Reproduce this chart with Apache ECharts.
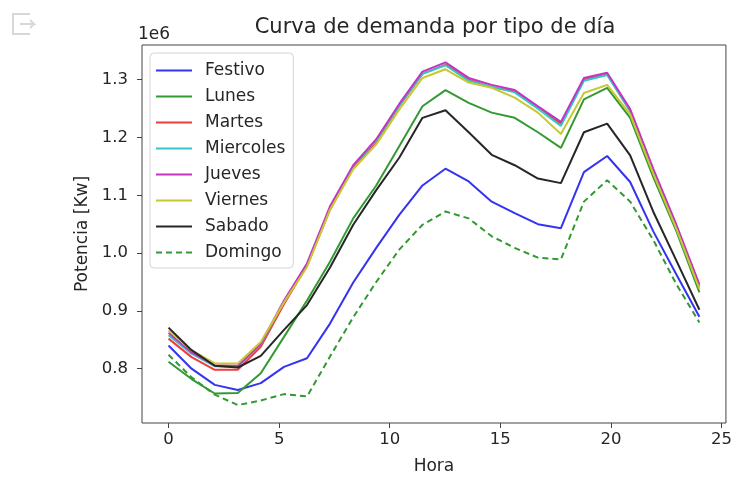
<!DOCTYPE html>
<html>
<head>
<meta charset="utf-8">
<script src="https://cdn.jsdelivr.net/npm/echarts@6/dist/echarts.min.js"></script>
<style>
  html, body { margin: 0; padding: 0; background: #ffffff; }
  #chart { width: 735px; height: 480px; }
</style>
</head>
<body>
<div id="chart"></div>
<script>
// Hour positions of the 24 samples (hourly profile spread over 0..24)
const hours = [0, 1.04, 2.09, 3.13, 4.17, 5.22, 6.26, 7.30, 8.35, 9.39, 10.43, 11.48,
               12.52, 13.57, 14.61, 15.65, 16.70, 17.74, 18.78, 19.83, 20.87, 21.91, 22.96, 24];

// Demand per day type, in kW
const festivo   = [840000, 800000, 772000, 763000, 775000, 803000, 818000, 878000, 949000, 1009000, 1066000, 1117000,
                   1146000, 1124000, 1089000, 1069000, 1050000, 1043000, 1140000, 1168000, 1123000, 1038000, 963000, 890000];
const lunes     = [812000, 782000, 757000, 758000, 792000, 855000, 918000, 985000, 1060000, 1117000, 1185000, 1254000,
                   1282000, 1260000, 1243000, 1234000, 1209000, 1182000, 1266000, 1286000, 1234000, 1132000, 1038000, 932000];
const martes    = [852000, 820000, 798000, 798000, 838000, 912000, 978000, 1075000, 1148000, 1193000, 1254000, 1310000,
                   1326000, 1300000, 1287000, 1280000, 1252000, 1224000, 1300000, 1309000, 1246000, 1143000, 1046000, 942000];
const miercoles = [858000, 826000, 804000, 803000, 842000, 916000, 980000, 1078000, 1150000, 1195000, 1255000, 1310000,
                   1325000, 1298000, 1288000, 1278000, 1250000, 1220000, 1298000, 1308000, 1246000, 1144000, 1047000, 943000];
const jueves    = [862000, 828000, 806000, 805000, 843000, 918000, 982000, 1081000, 1152000, 1197000, 1258000, 1314000,
                   1330000, 1303000, 1291000, 1282000, 1254000, 1227000, 1303000, 1312000, 1249000, 1146000, 1049000, 946000];
const viernes   = [866000, 832000, 809000, 809000, 846000, 915000, 976000, 1075000, 1145000, 1188000, 1248000, 1303000,
                   1318000, 1295000, 1286000, 1269000, 1243000, 1206000, 1277000, 1291000, 1240000, 1138000, 1042000, 938000];
const sabado    = [871000, 832000, 805000, 802000, 822000, 867000, 910000, 975000, 1049000, 1109000, 1165000, 1234000,
                   1247000, 1209000, 1170000, 1152000, 1129000, 1121000, 1209000, 1224000, 1169000, 1072000, 987000, 902000];
const domingo   = [824000, 785000, 755000, 737000, 745000, 756000, 752000, 821000, 889000, 950000, 1006000, 1049000,
                   1072000, 1060000, 1029000, 1009000, 992000, 989000, 1089000, 1126000, 1089000, 1023000, 946000, 880000];

const xTicks = [0, 5, 10, 15, 20, 25];
const yTicks = [800000, 900000, 1000000, 1100000, 1200000, 1300000];

const seriesDefs = [
  { name: 'Festivo',   data: festivo,   color: '#3434f0', dash: 'solid' },
  { name: 'Lunes',     data: lunes,     color: '#339933', dash: 'solid' },
  { name: 'Martes',    data: martes,    color: '#f03c3c', dash: 'solid' },
  { name: 'Miercoles', data: miercoles, color: '#33c6c6', dash: 'solid' },
  { name: 'Jueves',    data: jueves,    color: '#c433c4', dash: 'solid' },
  { name: 'Viernes',   data: viernes,   color: '#c8c833', dash: 'solid' },
  { name: 'Sabado',    data: sabado,    color: '#262626', dash: 'solid' },
  { name: 'Domingo',   data: domingo,   color: '#339933', dash: [6, 4] }
];

const textColor = '#262626';
const frameColor = '#444444';
const fontFamily = 'DejaVu Sans';

const chart = echarts.init(document.getElementById('chart'), null, { renderer: 'canvas' });

chart.setOption({
  animation: false,
  backgroundColor: '#ffffff',
  textStyle: { fontFamily: fontFamily },
  grid: {
    left: 142, top: 45, right: 7, bottom: 53,
    show: true, borderColor: frameColor, borderWidth: 1, backgroundColor: 'transparent'
  },
  xAxis: {
    type: 'value',
    min: -1.2, max: 25.2,
    name: 'Hora',
    nameLocation: 'middle',
    nameGap: 35,
    nameTextStyle: { fontSize: 17, color: textColor, fontFamily: fontFamily },
    axisLine: { show: false, onZero: false },
    splitLine: { show: false },
    axisTick: { show: true, customValues: xTicks, length: 5, lineStyle: { color: frameColor } },
    axisLabel: { customValues: xTicks, fontSize: 16.5, color: textColor, margin: 8, fontFamily: fontFamily }
  },
  yAxis: {
    type: 'value',
    min: 706000, max: 1360000,
    name: 'Potencia [Kw]',
    nameLocation: 'middle',
    nameGap: 48,
    nameTextStyle: { fontSize: 17, color: textColor, fontFamily: fontFamily },
    axisLine: { show: false, onZero: false },
    splitLine: { show: false },
    axisTick: { show: true, customValues: yTicks, length: 5, lineStyle: { color: frameColor } },
    axisLabel: {
      customValues: yTicks, fontSize: 16.5, color: textColor, margin: 14, fontFamily: fontFamily,
      formatter: v => (v / 1e6).toFixed(1)
    }
  },
  legend: {
    orient: 'vertical',
    left: 150, top: 53,
    itemWidth: 36, itemHeight: 14, itemGap: 9,
    padding: [9, 8, 7, 5],
    backgroundColor: 'rgba(255,255,255,0.85)',
    borderColor: '#d4d4d4', borderWidth: 1, borderRadius: 4,
    itemStyle: { opacity: 0 },
    textStyle: { fontSize: 17, color: textColor, fontFamily: fontFamily, padding: [0, 0, 0, 8] },
    data: seriesDefs.map(s => s.name)
  },
  graphic: [
    {
      type: 'text', x: 435, y: 28,
      style: { text: 'Curva de demanda por tipo de día', fontSize: 21, fill: textColor,
               fontFamily: fontFamily, align: 'center', verticalAlign: 'middle' }
    },
    {
      type: 'text', x: 138, y: 35,
      style: { text: '1e6', fontSize: 17, fill: textColor, fontFamily: fontFamily,
               align: 'left', verticalAlign: 'middle' }
    },
    {
      type: 'polyline',
      shape: { points: [[30, 14], [13, 14], [13, 34], [30, 34]] },
      style: { stroke: '#d8d8d8', lineWidth: 2, fill: null }
    },
    {
      type: 'polyline',
      shape: { points: [[20, 24], [34, 24], [30, 20], [34, 24], [30, 28]] },
      style: { stroke: '#d8d8d8', lineWidth: 2, fill: null }
    }
  ],
  series: seriesDefs.map(s => ({
    name: s.name,
    type: 'line',
    symbol: 'none',
    showSymbol: false,
    data: hours.map((h, i) => [h, s.data[i]]),
    lineStyle: { color: s.color, width: 2, type: s.dash },
    itemStyle: { color: s.color },
    emphasis: { disabled: true }
  }))
});
</script>
</body>
</html>
